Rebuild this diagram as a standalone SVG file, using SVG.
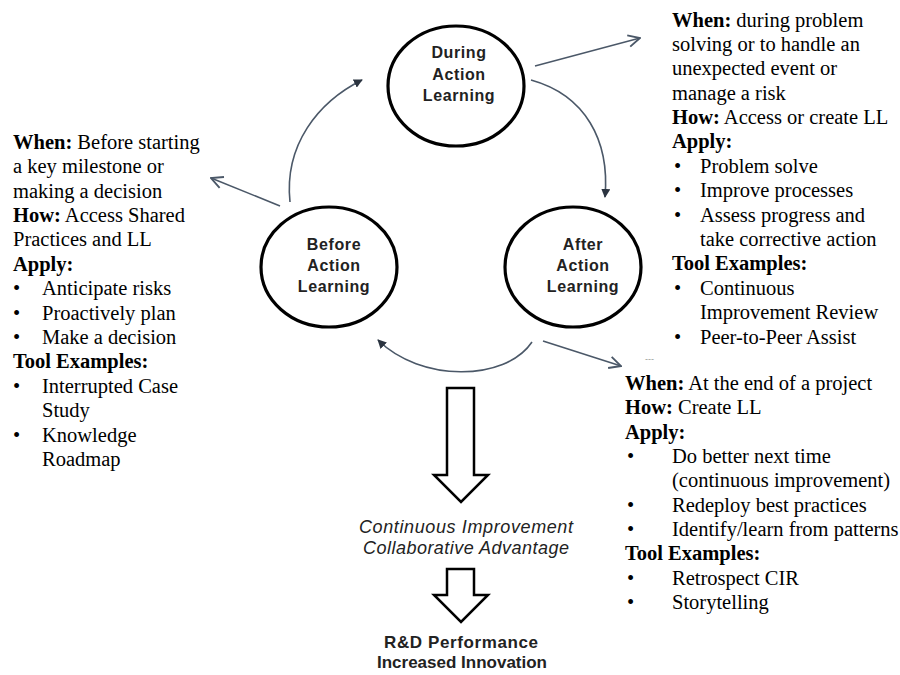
<svg xmlns="http://www.w3.org/2000/svg" width="900" height="675" viewBox="0 0 900 675">
<style>
.node{fill:#fff;stroke:#000;stroke-width:3.2}
.nl{font-family:"Liberation Sans",Arial,sans-serif;font-weight:bold;font-size:16px;fill:#222;text-anchor:middle;letter-spacing:0.6px}
.conn{fill:none;stroke:#4b5868;stroke-width:1.6}
.t{font-family:"Liberation Serif","Times New Roman",serif;font-size:20.5px;fill:#000}
.b{font-weight:bold}
.big{fill:#fff;stroke:#000;stroke-width:2.5;stroke-linejoin:miter}
.ci{font-family:"Liberation Sans",Arial,sans-serif;font-style:italic;font-size:18px;fill:#222;text-anchor:middle}
.rd{font-family:"Liberation Sans",Arial,sans-serif;font-weight:bold;font-size:17px;fill:#222;text-anchor:middle}
</style>
<defs>
<marker id="fill" viewBox="0 0 10 10" refX="9" refY="5" markerWidth="9" markerHeight="9" markerUnits="userSpaceOnUse" orient="auto">
<path d="M0,0 L10,5 L0,10 Z" fill="#2b3440"/>
</marker>
<marker id="open" viewBox="0 0 12 12" refX="11" refY="6" markerWidth="14" markerHeight="14" markerUnits="userSpaceOnUse" orient="auto">
<path d="M1,1 L11,6 L1,11" fill="none" stroke="#4b5868" stroke-width="1.6"/>
</marker>
</defs>
<rect width="900" height="675" fill="#fff"/>

<g id="connectors">
<path class="conn" d="M290,202 C284,145 318,102 362,80" marker-end="url(#fill)"/>
<path class="conn" d="M531,80 C585,95 610,140 605,197" marker-end="url(#fill)"/>
<path class="conn" d="M532,342 C505,382 420,382 378,340" marker-end="url(#fill)"/>
<path class="conn" d="M535,66 L640,38" marker-end="url(#open)"/>
<path class="conn" d="M280,206 L211,178" marker-end="url(#open)"/>
<path class="conn" d="M543,341 L621,366" marker-end="url(#open)"/>
</g>

<g id="during">
<ellipse class="node" cx="456" cy="86" rx="68" ry="60"/>
<text class="nl" x="459" y="58">During</text>
<text class="nl" x="459" y="80">Action</text>
<text class="nl" x="459" y="101">Learning</text>
</g>
<g id="before">
<ellipse class="node" cx="329" cy="267" rx="68" ry="60"/>
<text class="nl" x="334" y="250">Before</text>
<text class="nl" x="334" y="271">Action</text>
<text class="nl" x="334" y="292">Learning</text>
</g>
<g id="after">
<ellipse class="node" cx="573" cy="267" rx="68" ry="60"/>
<text class="nl" x="583" y="250">After</text>
<text class="nl" x="583" y="271">Action</text>
<text class="nl" x="583" y="292">Learning</text>
</g>

<g id="arrow1">
<path class="big" d="M447,388 L474,388 L474,475 L488,475 L461,502 L434,475 L447,475 Z"/>
</g>
<g id="outcome1">
<text class="ci" x="466" y="533" textLength="214" lengthAdjust="spacing">Continuous Improvement</text>
<text class="ci" x="466" y="554" textLength="206" lengthAdjust="spacing">Collaborative Advantage</text>
</g>
<g id="arrow2">
<path class="big" d="M447,569 L474,569 L474,595 L488,595 L461,622 L434,595 L447,595 Z"/>
</g>
<g id="outcome2">
<text class="rd" x="461" y="648" textLength="154" lengthAdjust="spacing">R&amp;D Performance</text>
<text class="rd" x="462" y="668" textLength="170" lengthAdjust="spacing">Increased Innovation</text>
</g>

<g id="during-text" class="t">
<text x="672" y="27"><tspan class="b">When:</tspan> during problem</text>
<text x="672" y="51">solving or to handle an</text>
<text x="672" y="75">unexpected event or</text>
<text x="672" y="100">manage a risk</text>
<text x="672" y="124"><tspan class="b">How:</tspan> Access or create LL</text>
<text x="672" y="148" class="b">Apply:</text>
<text x="674" y="173">•</text><text x="700" y="173">Problem solve</text>
<text x="674" y="197">•</text><text x="700" y="197">Improve processes</text>
<text x="674" y="222">•</text><text x="700" y="222">Assess progress and</text>
<text x="700" y="246">take corrective action</text>
<text x="672" y="270" class="b">Tool Examples:</text>
<text x="674" y="295">•</text><text x="700" y="295">Continuous</text>
<text x="700" y="319">Improvement Review</text>
<text x="674" y="344">•</text><text x="700" y="344">Peer-to-Peer Assist</text>
</g>

<text x="645" y="362" font-family="Liberation Sans, Arial, sans-serif" font-size="9" fill="#999">---</text>

<g id="after-text" class="t">
<text x="625" y="390"><tspan class="b">When:</tspan> At the end of a project</text>
<text x="625" y="414"><tspan class="b">How:</tspan> Create LL</text>
<text x="625" y="439" class="b">Apply:</text>
<text x="627" y="463">•</text><text x="672" y="463">Do better next time</text>
<text x="672" y="487">(continuous improvement)</text>
<text x="627" y="512">•</text><text x="672" y="512">Redeploy best practices</text>
<text x="627" y="536">•</text><text x="672" y="536">Identify/learn from patterns</text>
<text x="625" y="560" class="b">Tool Examples:</text>
<text x="627" y="585">•</text><text x="672" y="585">Retrospect CIR</text>
<text x="627" y="609">•</text><text x="672" y="609">Storytelling</text>
</g>

<g id="before-text" class="t">
<text x="13" y="149"><tspan class="b">When:</tspan> Before starting</text>
<text x="13" y="173">a key milestone or</text>
<text x="13" y="198">making a decision</text>
<text x="13" y="222"><tspan class="b">How:</tspan> Access Shared</text>
<text x="13" y="246">Practices and LL</text>
<text x="13" y="271" class="b">Apply:</text>
<text x="13" y="295">•</text><text x="42" y="295">Anticipate risks</text>
<text x="13" y="320">•</text><text x="42" y="320">Proactively plan</text>
<text x="13" y="344">•</text><text x="42" y="344">Make a decision</text>
<text x="13" y="368" class="b">Tool Examples:</text>
<text x="13" y="393">•</text><text x="42" y="393">Interrupted Case</text>
<text x="42" y="417">Study</text>
<text x="13" y="442">•</text><text x="42" y="442">Knowledge</text>
<text x="42" y="466">Roadmap</text>
</g>
</svg>
